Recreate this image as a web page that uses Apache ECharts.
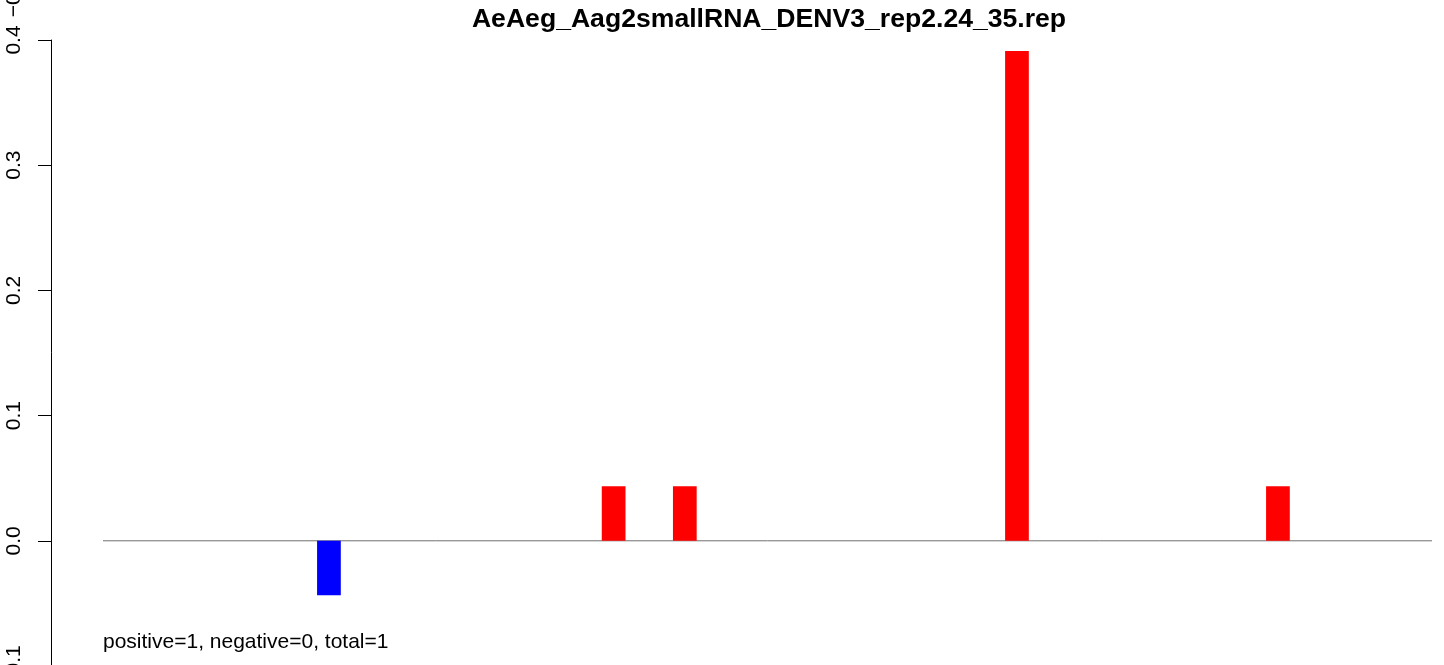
<!DOCTYPE html>
<html>
<head>
<meta charset="utf-8">
<script src="https://cdn.jsdelivr.net/npm/echarts@6/dist/echarts.min.js"></script>
<style>
html,body{margin:0;padding:0;background:#fff;}
#chart{width:1444px;height:665px;}
</style>
</head>
<body>
<div id="chart"></div>
<script>
// ---- data ----
var titleText = 'AeAeg_Aag2smallRNA_DENV3_rep2.24_35.rep';
var noteText = 'positive=1, negative=0, total=1';
var categories = [];
for (var k = 1; k <= 52; k++) categories.push(String(k));
var positiveIndex = [19, 22, 36, 47];
var positiveValues = [0.0435, 0.0435, 0.3913, 0.0435];
var negativeIndex = [7];
var negativeValues = [-0.0435];
var yTicks = [-0.1, 0.0, 0.1, 0.2, 0.3, 0.4];
var zeroLineX = [0, 1];

var FONT = '"Liberation Sans", Arial, Helvetica, sans-serif';

function pairs(idx, vals) {
  return idx.map(function (i, j) { return [i, vals[j]]; });
}

var chart = echarts.init(document.getElementById('chart'), null, {renderer: 'canvas'});
var GT = 40, GB = -1;
var option = {
  backgroundColor: '#ffffff',
  animation: false,
  title: {
    text: titleText,
    left: 764,
    textAlign: 'center',
    top: 1,
    textStyle: {fontFamily: FONT, fontWeight: 'bold', fontSize: 26.6, color: '#000'}
  },
  grid: [
    {left: 151, width: 1233.7, top: GT, bottom: GB, containLabel: false, outerBoundsMode: 'none'},
    {left: 103, right: 12, top: GT, bottom: GB, containLabel: false, outerBoundsMode: 'none'}
  ],
  xAxis: [
    {type: 'category', data: categories, gridIndex: 0, boundaryGap: true, show: false},
    {type: 'value', min: 0, max: 1, gridIndex: 1, show: false}
  ],
  yAxis: [
    {
      type: 'value', gridIndex: 0, offset: 100,
      min: yTicks[0], max: yTicks[yTicks.length - 1], interval: 0.1,
      splitLine: {show: false},
      axisLine: {show: true, lineStyle: {color: '#000', width: 1}},
      axisTick: {show: true, inside: false, length: 13, lineStyle: {color: '#000', width: 1}},
      axisLabel: {
        show: true, rotate: 90, margin: 26,
        fontFamily: FONT, fontSize: 21, color: '#000',
        formatter: function (v) { return v.toFixed(1).replace('-', '\u2212'); }
      }
    },
    {type: 'value', gridIndex: 1, min: yTicks[0], max: yTicks[yTicks.length - 1], show: false}
  ],
  series: [
    {
      type: 'line', xAxisIndex: 1, yAxisIndex: 1, z: 1, silent: true,
      symbol: 'none', data: [[zeroLineX[0], 0], [zeroLineX[1], 0]],
      lineStyle: {color: '#707070', width: 1}
    },
    {
      type: 'bar', xAxisIndex: 0, yAxisIndex: 0, z: 3, name: 'positive',
      barWidth: '100%', barGap: '-100%',
      itemStyle: {color: '#ff0000'},
      data: pairs(positiveIndex, positiveValues)
    },
    {
      type: 'bar', xAxisIndex: 0, yAxisIndex: 0, z: 3, name: 'negative',
      barWidth: '100%', barGap: '-100%',
      itemStyle: {color: '#0000ff'},
      data: pairs(negativeIndex, negativeValues)
    }
  ],
  graphic: [
    {
      type: 'text', left: 103, top: 632,
      style: {text: noteText, font: '21px ' + FONT, fill: '#000'}
    },
    {
      type: 'text', x: 14, y: -3.5, rotation: Math.PI / 2,
      style: {text: '\u22120.1', font: '21px ' + FONT, fill: '#000', align: 'center', verticalAlign: 'middle'}
    }
  ]
};
chart.setOption(option);
</script>
</body>
</html>
